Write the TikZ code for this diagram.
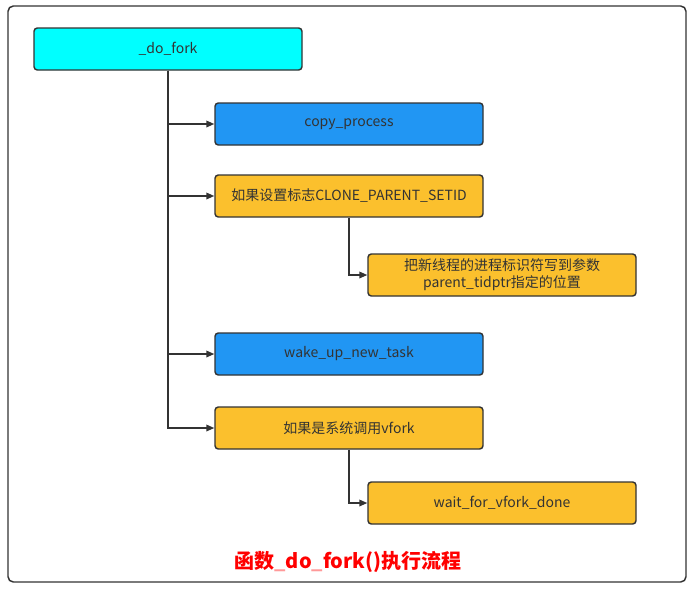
\documentclass[tikz,border=0pt]{standalone}
\usepackage{fontspec}
\setmainfont{Noto Sans CJK SC}
\usepackage{tikz}
\usetikzlibrary{positioning}
\usetikzlibrary{arrows.meta}

\definecolor{boxcyan}{RGB}{0,255,255}
\definecolor{boxblue}{RGB}{33,150,243}
\definecolor{boxyellow}{RGB}{251,192,45}
\definecolor{linegray}{RGB}{51,51,51}

\tikzset{
    fbox/.style={draw=linegray, line width=1.1pt, rounded corners=2.5pt, minimum width=201pt, minimum height=31.5pt, inner sep=0pt, align=center, text=linegray, font=\fontsize{10.5}{13}\selectfont},
    callbox/.style={fbox, fill=boxblue},
    condbox/.style={fbox, fill=boxyellow},
    flow/.style={draw=linegray, line width=1.1pt, -{Triangle[length=6pt,width=5pt]}},
}

\begin{document}
\begin{tikzpicture}[x=0.75pt, y=-0.75pt]
    \useasboundingbox (0,0) rectangle (692,590);
    \draw[linegray, line width=1.1pt, rounded corners=4pt] (8,6) rectangle (686,582);

    \node[fbox, fill=boxcyan] (dofork) at (168,49) {\_do\_fork};

    \node[callbox] (copy) at (349,124) {copy\_process};
    \node[condbox] (setid) at (349,196) {如果设置标志CLONE\_PARENT\_SETID};
    \node[condbox] (tidptr) at (502,275) {把新线程的进程标识符写到参数\\parent\_tidptr指定的位置};
    \node[callbox] (wakeup) at (349,354) {wake\_up\_new\_task};
    \node[condbox] (isvfork) at (349,428) {如果是系统调用vfork};
    \node[condbox] (waitdone) at (502,503) {wait\_for\_vfork\_done};

    \draw[flow] (dofork.south) |- (copy.west);
    \draw[flow] (dofork.south) |- (setid.west);
    \draw[flow] (dofork.south) |- (wakeup.west);
    \draw[flow] (dofork.south) |- (isvfork.west);
    \draw[flow] (setid.south) |- (tidptr.west);
    \draw[flow] (isvfork.south) |- (waitdone.west);

    \node[text=red, font=\fontsize{15}{18}\selectfont\bfseries] (caption) at (348,562) {函数\textcolor{red!40}{\_}do\textcolor{red!40}{\_}fork()执行流程};
\end{tikzpicture}
\end{document}
